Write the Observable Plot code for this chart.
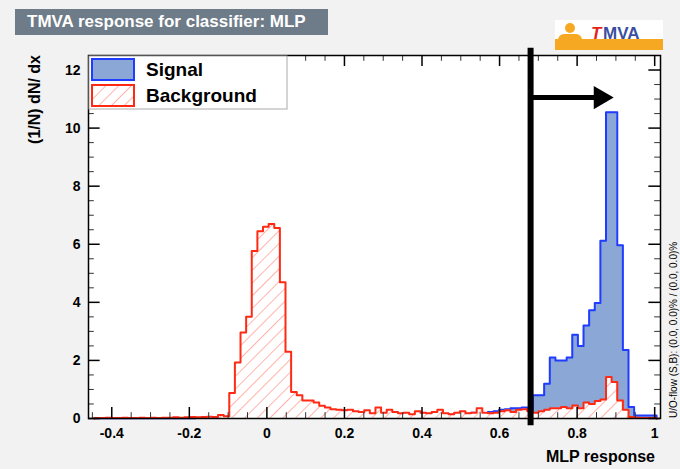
<!DOCTYPE html>
<html><head><meta charset="utf-8">
<script src="https://cdn.jsdelivr.net/npm/d3@7"></script>
<script src="https://cdn.jsdelivr.net/npm/@observablehq/plot@0.6"></script>
<style>
body{margin:0;background:#f2f2f2;font-family:"Liberation Sans",Arial,sans-serif;}
#wrap{position:relative;width:680px;height:469px;overflow:hidden;}
#title{position:absolute;left:15px;top:9px;width:313px;height:26px;background:#6e7b88;color:#fff;font-weight:bold;font-size:17px;line-height:26px;text-indent:12px;}
#logo{position:absolute;left:555px;top:20px;width:108px;height:30px;background:#fff;}
#chart{position:absolute;left:0;top:0;}
</style></head><body>
<div id="wrap"><div id="chart"></div><div id="title">TMVA response for classifier: MLP</div>
<div id="logo"><div style="position:absolute;left:0;bottom:0;width:108px;height:11px;background:#f7a823"></div>
<div style="position:absolute;left:10px;top:3px;width:10px;height:10px;border-radius:5px;background:#f7a823"></div>
<div style="position:absolute;left:3px;top:14px;width:24px;height:12px;border-radius:6px;background:#f7a823"></div>
<div style="position:absolute;left:36px;top:4px;font:italic bold 17px 'Liberation Sans';color:#e2231a">T</div>
<div style="position:absolute;left:48px;top:4px;font:bold 17px 'Liberation Sans';color:#3b4ea2">MVA</div></div>
</div>
<script>
const binStart = -0.445, binWidth = 0.0145;
const background = [0.02,0.02,0.03,0.02,0.02,0.03,0.02,0.02,0.03,0.02,
0.03,0.02,0.03,0.03,0.04,0.03,0.04,0.05,0.04,0.05,
0.06,0.05,0.12,0.08,0.88,1.93,2.96,3.5,5.77,6.45,
6.6,6.7,6.56,4.69,2.3,0.91,0.8,0.62,0.62,0.55,
0.44,0.38,0.32,0.3,0.28,0.3,0.25,0.22,0.28,0.18,
0.38,0.2,0.3,0.22,0.18,0.2,0.15,0.25,0.2,0.18,
0.22,0.3,0.18,0.15,0.2,0.25,0.18,0.2,0.35,0.2,
0.18,0.2,0.25,0.28,0.22,0.3,0.32,0.25,0.2,0.25,
0.3,0.35,0.35,0.4,0.35,0.45,0.35,0.55,0.5,0.6,
0.65,1.43,1.26,0.62,0.3,0.05,0.03,0.02,0.02,0.02];
const signal = [0.01,0.01,0.01,0.01,0.01,0.01,0.01,0.01,0.01,0.01,
0.01,0.01,0.01,0.01,0.01,0.01,0.01,0.01,0.02,0.02,
0.02,0.02,0.03,0.03,0.04,0.05,0.05,0.06,0.05,0.06,
0.05,0.07,0.06,0.05,0.06,0.05,0.06,0.07,0.06,0.07,
0.08,0.07,0.08,0.08,0.07,0.09,0.08,0.08,0.09,0.1,
0.08,0.09,0.1,0.1,0.11,0.1,0.1,0.12,0.11,0.12,
0.12,0.13,0.12,0.14,0.15,0.14,0.16,0.2,0.2,0.18,
0.22,0.25,0.3,0.32,0.35,0.35,0.38,0.3,0.8,0.8,
1.2,2.1,2.0,2.0,2.1,2.88,2.5,3.2,3.73,3.98,
6.12,10.55,10.55,5.97,2.36,0.4,0.1,0.1,0.1,0.1];
const cutValue = 0.68, arrowEnd = 0.885, arrowY = 11.05;
const xMajor = [-0.4,-0.2,0,0.2,0.4,0.6,0.8,1];
const yMajor = [0,2,4,6,8,10,12];

const stepLine = arr => { const p=[{x:binStart,y:0}]; arr.forEach((v,i)=>{p.push({x:binStart+i*binWidth,y:v});p.push({x:binStart+(i+1)*binWidth,y:v});}); p.push({x:binStart+arr.length*binWidth,y:0}); return p;};
const xMinor = d3.range(-0.45,1.0201,0.05).filter(v=>!xMajor.some(m=>Math.abs(m-v)<1e-6));
const yMinor = d3.range(0,12.6,0.5).filter(v=>v%2!==0);
const x0=-0.46, x1=1.015, y1=12.5;
const plot = Plot.plot({
  width:680, height:469, marginLeft:88, marginRight:20, marginTop:55, marginBottom:51,
  style:{background:"transparent",fontFamily:"Liberation Sans, Arial",fontSize:"14px",fontWeight:"bold",color:"#000"},
  x:{domain:[x0,x1]}, y:{domain:[0,y1]},
  marks:[
    Plot.rect([0],{x1:x0,x2:x1,y1:0,y2:y1,fill:"white"}),
    Plot.area(stepLine(signal),{x1:"x",y1:0,y2:"y",fill:"#8aa7d6"}),
    Plot.line(stepLine(signal),{x:"x",y:"y",stroke:"#1f3cff",strokeWidth:2}),
    Plot.area(stepLine(background),{x1:"x",y1:0,y2:"y",fill:"url(#hatch)"}),
    Plot.line(stepLine(background),{x:"x",y:"y",stroke:"#ff2a14",strokeWidth:2}),
    Plot.ruleX(xMajor,{y1:0,y2:0.38,stroke:"black",strokeWidth:1.5}),
    Plot.ruleX(xMinor,{y1:0,y2:0.2,stroke:"#333"}),
    Plot.ruleX(xMajor,{y1:y1-0.38,y2:y1,stroke:"black",strokeWidth:1.5}),
    Plot.ruleX(xMinor,{y1:y1-0.2,y2:y1,stroke:"#333"}),
    Plot.ruleY(yMajor,{x1:x0,x2:x0+0.03,stroke:"black",strokeWidth:1.5}),
    Plot.ruleY(yMinor,{x1:x0,x2:x0+0.015,stroke:"#333"}),
    Plot.ruleY(yMajor,{x1:x1-0.03,x2:x1,stroke:"black",strokeWidth:1.5}),
    Plot.ruleY(yMinor,{x1:x1-0.015,x2:x1,stroke:"#333"}),
    Plot.frame({stroke:"black",strokeWidth:1.5}),
    Plot.axisX(xMajor,{tickSize:0,tickPadding:10,fontSize:14,label:null,tickFormat:d=>String(d)}),
    Plot.axisY(yMajor,{tickSize:0,tickPadding:8,fontSize:14,label:null}),
    Plot.ruleX([cutValue],{y1:-0.25,y2:y1+0.25,stroke:"black",strokeWidth:6,clip:false}),
    Plot.ruleY([arrowY],{x1:cutValue,x2:arrowEnd-0.04,stroke:"black",strokeWidth:5}),
    Plot.dot([0],{x:arrowEnd-0.025,y:arrowY,symbol:"triangle2",rotate:90,r:11,fill:"black"}),
  ]
});
const svg=d3.select(plot);
svg.insert("defs",":first-child").html(`<pattern id="hatch" patternUnits="userSpaceOnUse" width="9" height="9" patternTransform="rotate(45)"><rect width="9" height="9" fill="white"/><line x1="0" y1="0" x2="0" y2="9" stroke="#ff6a5a" stroke-width="1"/></pattern>`);
plot.querySelectorAll("text").forEach(t=>{if(t.textContent.startsWith("−"))t.textContent=t.textContent.replace("−","-");});
const lg=svg.append("g").attr("text-anchor","start");
lg.append("rect").attr("x",89).attr("y",56).attr("width",198).attr("height",53).attr("fill","white").attr("stroke","#aaa");
lg.append("rect").attr("x",92).attr("y",59).attr("width",42).attr("height",21).attr("fill","#8aa7d6").attr("stroke","#1f3cff").attr("stroke-width",2);
lg.append("rect").attr("x",92).attr("y",85).attr("width",42).attr("height",21).attr("fill","url(#hatch)").attr("stroke","#ff2a14").attr("stroke-width",2);
lg.append("text").attr("x",146).attr("y",76).text("Signal").attr("font-size",19).attr("font-weight","bold");
lg.append("text").attr("x",146).attr("y",102).text("Background").attr("font-size",19).attr("font-weight","bold");
svg.append("text").attr("x",655).attr("y",462).attr("text-anchor","end").attr("font-size",16).attr("font-weight","bold").text("MLP response");
svg.append("text").attr("transform","translate(40,55) rotate(-90)").attr("text-anchor","end").attr("font-size",16).attr("font-weight","bold").text("(1/N) dN/ dx");
svg.append("text").attr("transform","translate(677,418) rotate(-90)").attr("text-anchor","start").attr("font-size",10).attr("font-weight","normal").text("U/O-flow (S,B): (0.0, 0.0)% / (0.0, 0.0)%");
document.getElementById("chart").appendChild(plot);
</script></body></html>
